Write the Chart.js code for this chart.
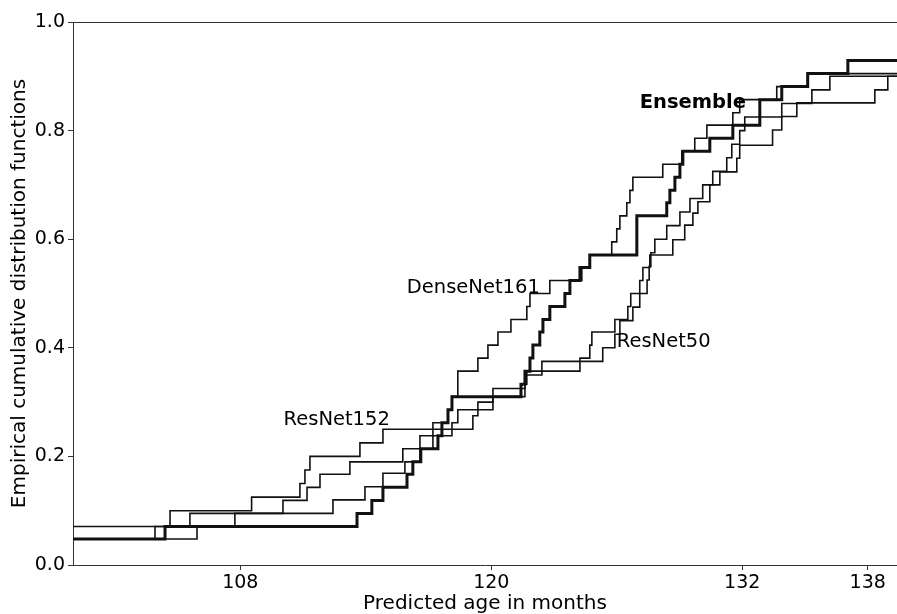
<!DOCTYPE html>
<html>
<head>
<meta charset="utf-8">
<script src="https://cdn.jsdelivr.net/npm/chart.js@4.4.1/dist/chart.umd.min.js"></script>
<style>
  html, body { margin: 0; padding: 0; background: #fff; }
  #wrap { width: 897px; height: 614px; }
</style>
</head>
<body>
<div id="wrap"><canvas id="ecdfChart" width="897" height="614"></canvas></div>
<script>
// tick labels
const xTicks = [108, 120, 132, 138]
const yTicks = [0, 0.2, 0.4, 0.6, 0.8, 1.0]

// each series: x = predicted age where a step starts, y = ECDF level from there on
const ensembleX = [95, 104.40, 113.58, 114.29, 114.82, 115.97, 116.25, 116.63, 117.45, 117.64, 117.93, 118.12, 121.42, 121.61, 121.85, 121.99, 122.32, 122.47, 122.80, 123.52, 123.76, 124.24, 124.71, 126.96, 128.39, 128.54, 128.78, 129.02, 129.16, 130.45, 131.55, 132.84, 133.89, 135.13, 137.05, 145]
const ensembleY = [0.048, 0.071, 0.095, 0.119, 0.143, 0.167, 0.19, 0.214, 0.238, 0.262, 0.286, 0.31, 0.333, 0.357, 0.381, 0.405, 0.429, 0.452, 0.476, 0.5, 0.524, 0.548, 0.571, 0.643, 0.667, 0.69, 0.714, 0.738, 0.762, 0.786, 0.81, 0.857, 0.881, 0.905, 0.929, 0.929]

const denseX = [95, 105.59, 110.04, 111.19, 111.81, 113.24, 115.77, 116.59, 117.21, 117.93, 118.12, 118.40, 119.36, 119.84, 120.32, 120.94, 121.70, 121.85, 122.80, 124.33, 124.71, 125.76, 126.00, 126.15, 126.48, 126.63, 126.77, 128.20, 129.11, 129.73, 130.31, 131.55, 131.88, 133.65, 135.13, 145]
const denseY = [0.071, 0.095, 0.119, 0.143, 0.167, 0.19, 0.214, 0.238, 0.262, 0.286, 0.31, 0.357, 0.381, 0.405, 0.429, 0.452, 0.476, 0.5, 0.524, 0.548, 0.571, 0.595, 0.619, 0.643, 0.667, 0.69, 0.714, 0.738, 0.762, 0.786, 0.81, 0.833, 0.857, 0.881, 0.905, 0.905]

const res152X = [95, 103.92, 104.64, 108.54, 110.85, 111.09, 111.33, 113.72, 114.82, 119.12, 119.36, 120.08, 121.61, 122.42, 125.33, 125.91, 126.15, 126.77, 127.10, 127.45, 127.55, 127.63, 127.82, 128.39, 129.02, 129.50, 130.11, 130.59, 131.26, 131.50, 131.88, 132.12, 133.89, 135.33, 136.19, 145]
const res152Y = [0.048, 0.071, 0.1, 0.125, 0.15, 0.175, 0.2, 0.225, 0.25, 0.275, 0.3, 0.325, 0.35, 0.375, 0.4, 0.425, 0.45, 0.475, 0.5, 0.525, 0.55, 0.575, 0.6, 0.625, 0.65, 0.675, 0.7, 0.725, 0.75, 0.775, 0.8, 0.825, 0.85, 0.875, 0.9, 0.9]

const res50X = [95, 105.93, 107.74, 112.43, 113.96, 114.82, 115.87, 116.59, 117.21, 118.12, 118.40, 120.08, 121.61, 121.70, 124.24, 124.71, 124.81, 125.91, 126.53, 126.67, 127.10, 127.25, 127.58, 128.68, 129.25, 129.64, 129.88, 130.45, 130.93, 131.74, 131.88, 133.45, 133.89, 134.61, 138.34, 138.96, 145]
const res50Y = [0.048, 0.071, 0.095, 0.12, 0.144, 0.169, 0.19, 0.214, 0.238, 0.262, 0.286, 0.31, 0.333, 0.357, 0.381, 0.405, 0.429, 0.452, 0.476, 0.5, 0.524, 0.548, 0.571, 0.599, 0.626, 0.648, 0.669, 0.7, 0.724, 0.749, 0.773, 0.801, 0.826, 0.851, 0.875, 0.9, 0.9]

const pts = (xs, ys) => xs.map((x, i) => ({ x, y: ys[i] }))

const line = (label, xs, ys, width) => ({
  label,
  data: pts(xs, ys),
  stepped: 'before',
  borderColor: '#111',
  borderWidth: width,
  pointRadius: 0,
  fill: false,
})

// top spine (the plot runs off the right edge of the picture)
const frame = {
  id: 'frame',
  afterDraw(chart) {
    const { ctx, chartArea: a } = chart
    ctx.save()
    ctx.strokeStyle = '#333'
    ctx.lineWidth = 1
    ctx.beginPath()
    ctx.moveTo(a.left, a.top + 0.5)
    ctx.lineTo(a.right, a.top + 0.5)
    ctx.stroke()
    ctx.restore()
  },
}

// curve names written next to the lines
const curveLabels = {
  id: 'curveLabels',
  afterDatasetsDraw(chart) {
    const { ctx, scales: { x, y } } = chart
    ctx.save()
    ctx.fillStyle = '#000'
    ctx.textBaseline = 'middle'
    const put = (text, vx, vy, align, bold) => {
      ctx.font = (bold ? 'bold ' : '') + '19.5px "DejaVu Sans"'
      ctx.textAlign = align
      ctx.fillText(text, x.getPixelForValue(vx), y.getPixelForValue(vy))
    }
    put('DenseNet161', 122.32, 0.51, 'right')
    put('ResNet152', 115.15, 0.267, 'right')
    put('ResNet50', 126.0, 0.411, 'left')
    put('Ensemble', 127.1, 0.851, 'left', true)
    ctx.restore()
  },
}

const tickFont = { family: 'DejaVu Sans', size: 19 }
const titleFont = { family: 'DejaVu Sans', size: 20 }

new Chart(document.getElementById('ecdfChart'), {
  type: 'line',
  data: {
    datasets: [
      line('DenseNet161', denseX, denseY, 1.6),
      line('ResNet152', res152X, res152Y, 1.6),
      line('ResNet50', res50X, res50Y, 1.6),
      line('Ensemble', ensembleX, ensembleY, 3),
    ],
  },
  options: {
    responsive: false,
    animation: false,
    devicePixelRatio: 1,
    layout: { padding: { top: 22, right: 0, left: 0, bottom: 0 } },
    plugins: { legend: { display: false }, tooltip: { enabled: false } },
    scales: {
      x: {
        type: 'linear',
        min: 100,
        max: 139.4,
        afterBuildTicks: (s) => { s.ticks = xTicks.map((v) => ({ value: v })) },
        afterFit: (s) => { s.height = 49 },
        ticks: { font: tickFont, color: '#000', padding: 2, maxRotation: 0, callback: (v) => String(v) },
        grid: { drawOnChartArea: false, drawTicks: true, tickLength: 5, color: '#333' },
        border: { display: true, color: '#333', width: 1 },
        title: { display: true, text: 'Predicted age in months', font: titleFont, color: '#000', padding: { top: 0, bottom: -2 } },
      },
      y: {
        min: 0,
        max: 1,
        afterBuildTicks: (s) => { s.ticks = yTicks.map((v) => ({ value: v })) },
        afterFit: (s) => { s.width = 73 },
        ticks: { font: tickFont, color: '#000', padding: 3, callback: (v) => v.toFixed(1) },
        grid: { drawOnChartArea: false, drawTicks: true, tickLength: 5, color: '#333' },
        border: { display: true, color: '#333', width: 1 },
        title: { display: true, text: 'Empirical cumulative distribution functions', font: titleFont, color: '#000', padding: { top: 8, bottom: 0 } },
      },
    },
  },
  plugins: [frame, curveLabels],
})
</script>
</body>
</html>
